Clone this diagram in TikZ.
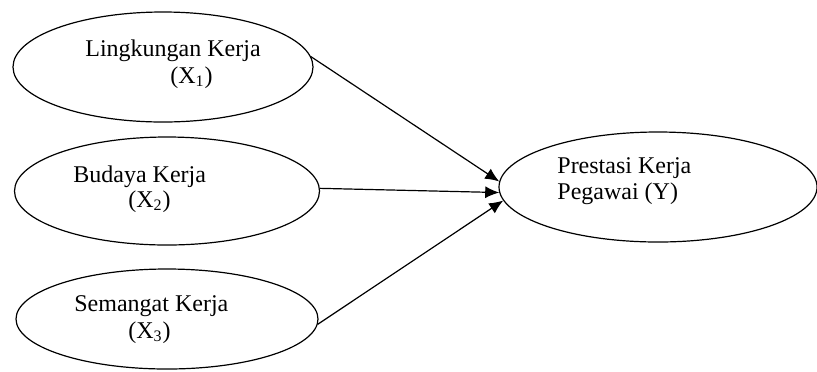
\documentclass[tikz,border=0pt]{standalone}
\usepackage{fontspec}
\setmainfont{Liberation Serif}
\usepackage{tikz}
\usetikzlibrary{shapes.geometric,arrows.meta,positioning}

\begin{document}
\begin{tikzpicture}[x=0.5pt, y=-0.5pt, varbox/.style={ellipse, draw, line width=0.6pt, inner sep=0pt}, varlabel/.style={anchor=base west, inner sep=0pt, font=\fontsize{12pt}{14pt}\selectfont}, causal/.style={line width=0.6pt, -{Latex[length=7pt,width=6pt]}}]
\useasboundingbox (0,0) rectangle (817,371);

% VARIABLES

\node [varbox, minimum width=150pt, minimum height=55pt] (x1) at (163,67) {};
\node [varbox, minimum width=152.5pt, minimum height=54pt] (x2) at (167,191) {};
\node [varbox, minimum width=151pt, minimum height=50pt] (x3) at (167,319) {};
\node [varbox, minimum width=159pt, minimum height=55pt] (y) at (658,187) {};

% LABELS

\node [varlabel] (x1name) at (85,56) {Lingkungan Kerja};
\node [varlabel] (x1sym) at (170,83) {(X\textsubscript{1})};

\node [varlabel] (x2name) at (73,182) {Budaya Kerja};
\node [varlabel] (x2sym) at (128,207) {(X\textsubscript{2})};

\node [varlabel] (x3name) at (74,311) {Semangat Kerja};
\node [varlabel] (x3sym) at (128,338) {(X\textsubscript{3})};

\node [varlabel] (yname) at (557,173) {Prestasi Kerja};
\node [varlabel] (ysym) at (557,199) {Pegawai (Y)};

% CAUSAL PATHS

\draw[causal] (x1.4) -- (y.178);
\draw[causal] (x2.1) -- (y.182);
\draw[causal] (x3.-2) -- (y.185);

\end{tikzpicture}
\end{document}
